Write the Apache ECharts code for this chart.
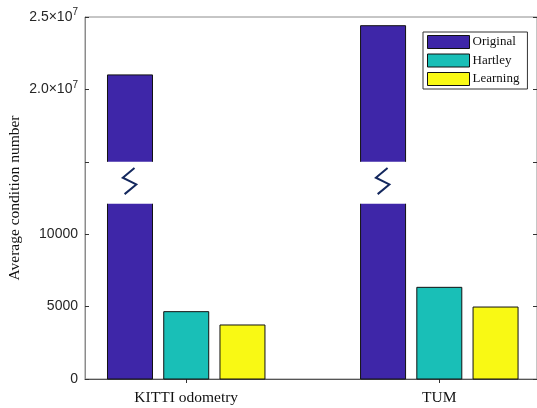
<!DOCTYPE html>
<html><head><meta charset="utf-8">
<script src="https://cdn.jsdelivr.net/npm/echarts@6/dist/echarts.min.js"></script>
<style>html,body{margin:0;padding:0;background:#fff}#c{width:537px;height:408px}</style>
</head><body><div id="c"></div>
<script>
const categories = ['KITTI odometry', 'TUM'];
const seriesNames = ['Original', 'Hartley', 'Learning'];
const original = [21000000, 24400000];
const hartley = [4650, 6330];
const learning = [3730, 4970];
const yTickLabels = ['0', '5000', '10000', '', '2.0×10{sup|7}', '2.5×10{sup|7}'];
const colors = ['#3e26a8', '#19bfb7', '#f9f914'];

// broken axis: lower part linear in steps of 5000, upper part in steps of 5e6
const LOW_STEP = 5000, HIGH_BASE = 2e7, HIGH_STEP = 5e6, HIGH_BASE_UNIT = 4;
const BREAK_LOW = 12100, BREAK_HIGH = 1.5e7;
function toUnit(v) {
  return v <= BREAK_LOW ? v / LOW_STEP : HIGH_BASE_UNIT + (v - HIGH_BASE) / HIGH_STEP;
}
const groupW = 3 / 4.5, barSpace = groupW / 3, barW = barSpace * 0.8;
const offsets = [-barSpace, 0, barSpace];

function render(si) {
  return function (params, api) {
    const xc = api.value(0) + offsets[si];
    const raw = api.value(2);
    const xl = api.coord([xc - barW / 2, 0])[0];
    const xr = api.coord([xc + barW / 2, 0])[0];
    const y0 = api.coord([xc, 0])[1];
    const fill = colors[si];
    const line = { stroke: '#111', lineWidth: 1, fill: null };
    const children = [];
    if (raw <= BREAK_LOW) {
      const yt = api.coord([xc, toUnit(raw)])[1];
      children.push({ type: 'rect', shape: { x: xl, y: yt, width: xr - xl, height: y0 - yt },
        style: { fill: fill, stroke: '#111', lineWidth: 1 } });
    } else {
      const yLowTop = api.coord([xc, toUnit(BREAK_LOW)])[1];
      const yHighBot = api.coord([xc, toUnit(BREAK_HIGH)])[1];
      const yt = api.coord([xc, toUnit(raw)])[1];
      children.push({ type: 'rect', shape: { x: xl, y: yLowTop, width: xr - xl, height: y0 - yLowTop }, style: { fill: fill } });
      children.push({ type: 'polyline', shape: { points: [[xl, yLowTop], [xl, y0], [xr, y0], [xr, yLowTop]] }, style: line });
      children.push({ type: 'rect', shape: { x: xl, y: yt, width: xr - xl, height: yHighBot - yt }, style: { fill: fill } });
      children.push({ type: 'polyline', shape: { points: [[xl, yHighBot], [xl, yt], [xr, yt], [xr, yHighBot]] }, style: line });
      // break mark
      const cx = (xl + xr) / 2, gh = yLowTop - yHighBot, cy = (yLowTop + yHighBot) / 2 - gh * 0.03;
      const w = xr - xl;
      children.push({ type: 'polyline', shape: { points: [
        [cx + w * 0.10, cy - gh * 0.32], [cx - w * 0.16, cy - gh * 0.09],
        [cx + w * 0.14, cy + gh * 0.07], [cx - w * 0.12, cy + gh * 0.30]] },
        style: { stroke: '#14285e', lineWidth: 2, fill: null } });
    }
    return { type: 'group', children: children };
  };
}

const valuesBySeries = [original, hartley, learning];
const series = seriesNames.map(function (name, si) {
  return {
    type: 'custom', name: name, renderItem: render(si),
    itemStyle: { color: colors[si], borderColor: '#111', borderWidth: 1 },
    encode: { x: 0, y: 1 },
    data: valuesBySeries[si].map(function (v, i) { return [i + 1, toUnit(v), v]; })
  };
});

const chart = echarts.init(document.getElementById('c'), null, { renderer: 'canvas' });
chart.setOption({
  animation: false,
  backgroundColor: '#fff',
  grid: { left: 85, right: 0, top: 17, bottom: 29, show: true, borderColor: '#8c8c8c', borderWidth: 1,
    containLabel: false, outerBoundsMode: 'none' },
  legend: {
    orient: 'vertical', left: 423, top: 32,
    backgroundColor: '#fff', borderColor: '#333', borderWidth: 1,
    padding: [3, 8, 3, 4], itemGap: 4.5, itemWidth: 42, itemHeight: 13, icon: 'rect',
    textStyle: { fontFamily: 'Liberation Serif', fontSize: 13, color: '#111', padding: [0, 0, 0, -2] },
    data: seriesNames.map(function (n) { return { name: n, itemStyle: { borderColor: '#111', borderWidth: 1 } }; })
  },
  xAxis: [{
    type: 'value', min: 0.6, max: 2.386, position: 'bottom',
    axisLine: { show: true, lineStyle: { color: '#555', width: 1.2 } },
    axisTick: { show: true, inside: true, length: 4, customValues: [1, 2], lineStyle: { color: '#333' } },
    axisLabel: { customValues: [1, 2], margin: 11, fontFamily: 'Liberation Serif', fontSize: 15.5, color: '#111',
      formatter: function (v) { return categories[Math.round(v) - 1] || ''; } },
    splitLine: { show: false }
  }, {
    type: 'value', min: 0.6, max: 2.386, position: 'top',
    axisLine: { show: false },
    axisTick: { show: true, inside: true, length: 4, customValues: [1, 2], lineStyle: { color: '#333' } },
    axisLabel: { show: false }, splitLine: { show: false }
  }],
  yAxis: [{
    type: 'value', min: 0, max: 5, interval: 1, position: 'left',
    name: 'Average condition number', nameLocation: 'middle', nameGap: 62, nameRotate: 90,
    nameMoveOverlap: false,
    nameTextStyle: { fontFamily: 'Liberation Serif', fontSize: 15.5, color: '#111' },
    axisLine: { show: true, lineStyle: { color: '#8c8c8c' } },
    axisTick: { show: true, inside: true, length: 4, lineStyle: { color: '#333' } },
    axisLabel: { margin: 7, fontFamily: 'Liberation Sans', fontSize: 14, color: '#262626',
      formatter: function (v) { return yTickLabels[Math.round(v)]; },
      rich: { sup: { fontFamily: 'Liberation Sans', fontSize: 10, color: '#262626', padding: [0, 0, 9, 0] } } },
    splitLine: { show: false }
  }, {
    type: 'value', min: 0, max: 5, interval: 1, position: 'right',
    axisLine: { show: false },
    axisTick: { show: true, inside: true, length: 4, lineStyle: { color: '#333' } },
    axisLabel: { show: false }, splitLine: { show: false }
  }],
  series: series
});
</script>
</body></html>
